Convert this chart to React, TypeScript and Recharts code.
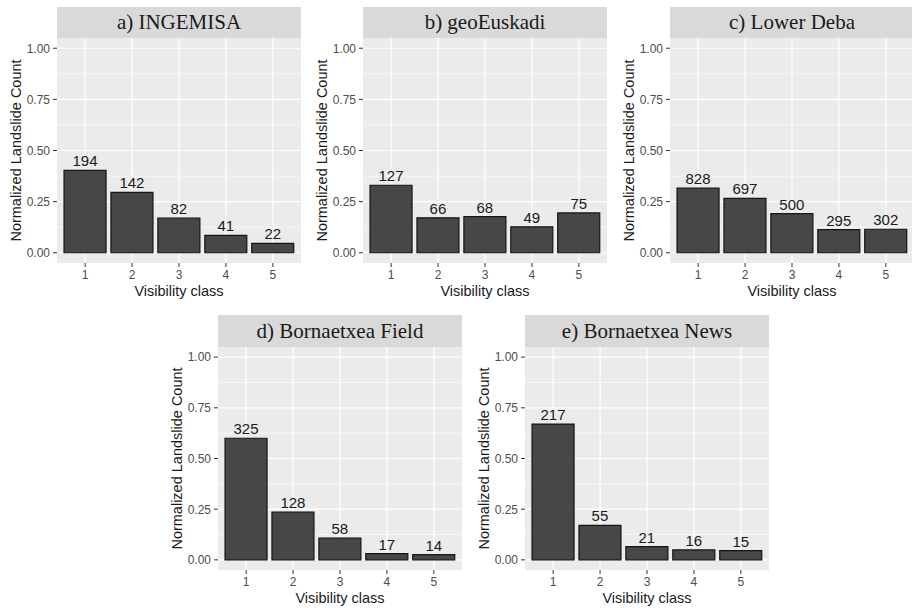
import React from "react";
import {
  BarChart,
  Bar,
  XAxis,
  YAxis,
  CartesianGrid,
  LabelList,
} from "recharts";

// Visibility classes shared by all panels
const classes = [1, 2, 3, 4, 5];

// a) INGEMISA
const ingemisaCounts = [194, 142, 82, 41, 22];
const ingemisaNorm = [0.403, 0.295, 0.17, 0.085, 0.046];

// b) geoEuskadi
const geoEuskadiCounts = [127, 66, 68, 49, 75];
const geoEuskadiNorm = [0.33, 0.171, 0.177, 0.127, 0.195];

// c) Lower Deba
const lowerDebaCounts = [828, 697, 500, 295, 302];
const lowerDebaNorm = [0.316, 0.266, 0.191, 0.113, 0.115];

// d) Bornaetxea Field
const fieldCounts = [325, 128, 58, 17, 14];
const fieldNorm = [0.6, 0.236, 0.107, 0.031, 0.026];

// e) Bornaetxea News
const newsCounts = [217, 55, 21, 16, 15];
const newsNorm = [0.67, 0.17, 0.065, 0.049, 0.046];

const yTicks = [0, 0.25, 0.5, 0.75, 1];
const yMinor = [0.125, 0.375, 0.625, 0.875];

const SANS = "'Liberation Sans', Arial, sans-serif";
const SERIF = "'Liberation Serif', 'Times New Roman', serif";

const AXIS_W = 57;
const PLOT_W = 244;
const X_AXIS_H = 42;
const TICK_FONT = 12;

const buildRows = (counts: number[], norm: number[]) =>
  classes.map((cls, i) => ({ cls, count: counts[i], value: norm[i] }));

// ggplot-like tick labels, drawn explicitly so the size sticks
const XTick = (props: any) => {
  const { x, y, payload } = props;
  return (
    <text x={x} y={y} dy="0.71em" textAnchor="middle" fill="#4d4d4d" fontSize={TICK_FONT} fontFamily={SANS}>
      {payload.value}
    </text>
  );
};

const YTick = (props: any) => {
  const { x, y, payload } = props;
  return (
    <text x={x} y={y} dy="0.36em" textAnchor="end" fill="#4d4d4d" fontSize={TICK_FONT} fontFamily={SANS}>
      {Number(payload.value).toFixed(2)}
    </text>
  );
};

interface PanelProps {
  title: string;
  counts: number[];
  norm: number[];
  plotLeft: number;
  top: number;
  stripH: number;
  plotH: number;
}

function Panel({ title, counts, norm, plotLeft, top, stripH, plotH }: PanelProps) {
  const data = buildRows(counts, norm);
  const left = plotLeft - AXIS_W;
  return (
    <div style={{ position: "absolute", left, top, width: AXIS_W + PLOT_W, height: stripH + plotH + X_AXIS_H }}>
      <div
        style={{
          position: "absolute",
          left: AXIS_W,
          top: 0,
          width: PLOT_W,
          height: stripH,
          background: "#d9d9d9",
          color: "#1a1a1a",
          fontFamily: SERIF,
          fontSize: 21,
          lineHeight: `${stripH}px`,
          textAlign: "center",
        }}
      >
        {title}
      </div>
      <div style={{ position: "absolute", left: 0, top: stripH }}>
        <BarChart
          width={AXIS_W + PLOT_W}
          height={plotH + X_AXIS_H}
          data={data}
          margin={{ top: 0, right: 0, bottom: 0, left: 0 }}
          barCategoryGap="5%"
        >
          <CartesianGrid
            fill="#ebebeb"
            stroke="#ffffff"
            strokeWidth={0.6}
            vertical={false}
            horizontalValues={yMinor}
          />
          <CartesianGrid
            stroke="#ffffff"
            strokeWidth={1.2}
            horizontalValues={yTicks}
            verticalValues={classes}
          />
          <XAxis
            dataKey="cls"
            type="number"
            domain={[0.4, 5.6]}
            ticks={classes}
            allowDataOverflow
            axisLine={false}
            tickSize={4}
            tickMargin={3}
            tickLine={{ stroke: "#333333" }}
            tick={<XTick />}
            height={X_AXIS_H}
            label={{
              value: "Visibility class",
              position: "insideBottom",
              offset: 9,
              fill: "#1a1a1a",
              fontSize: 14.5,
              fontFamily: SANS,
            }}
          />
          <YAxis
            type="number"
            domain={[-0.05, 1.05]}
            ticks={yTicks}
            allowDataOverflow
            axisLine={false}
            tickSize={4}
            tickMargin={3}
            tickLine={{ stroke: "#333333" }}
            tick={<YTick />}
            width={AXIS_W}
            label={{
              value: "Normalized Landslide Count",
              angle: -90,
              position: "insideLeft",
              offset: 16,
              fill: "#1a1a1a",
              fontSize: 14.5,
              fontFamily: SANS,
              style: { textAnchor: "middle" },
            }}
          />
          <Bar
            dataKey="value"
            fill="#474747"
            stroke="#151515"
            strokeWidth={1.2}
            isAnimationActive={false}
          >
            <LabelList
              dataKey="count"
              position="top"
              offset={4}
              fill="#1a1a1a"
              fontSize={15}
              fontFamily={SANS}
            />
          </Bar>
        </BarChart>
      </div>
    </div>
  );
}

export default function App() {
  return (
    <div
      style={{
        position: "absolute",
        left: 0,
        top: 0,
        width: 912,
        height: 608,
        overflow: "hidden",
        background: "#ffffff",
      }}
    >
      <Panel title="a) INGEMISA" counts={ingemisaCounts} norm={ingemisaNorm} plotLeft={57} top={7} stripH={31} plotH={225} />
      <Panel title="b) geoEuskadi" counts={geoEuskadiCounts} norm={geoEuskadiNorm} plotLeft={363} top={7} stripH={31} plotH={225} />
      <Panel title="c) Lower Deba" counts={lowerDebaCounts} norm={lowerDebaNorm} plotLeft={670} top={7} stripH={31} plotH={225} />
      <Panel title="d) Bornaetxea Field" counts={fieldCounts} norm={fieldNorm} plotLeft={218} top={315} stripH={32} plotH={223} />
      <Panel title="e) Bornaetxea News" counts={newsCounts} norm={newsNorm} plotLeft={525} top={315} stripH={32} plotH={223} />
    </div>
  );
}
